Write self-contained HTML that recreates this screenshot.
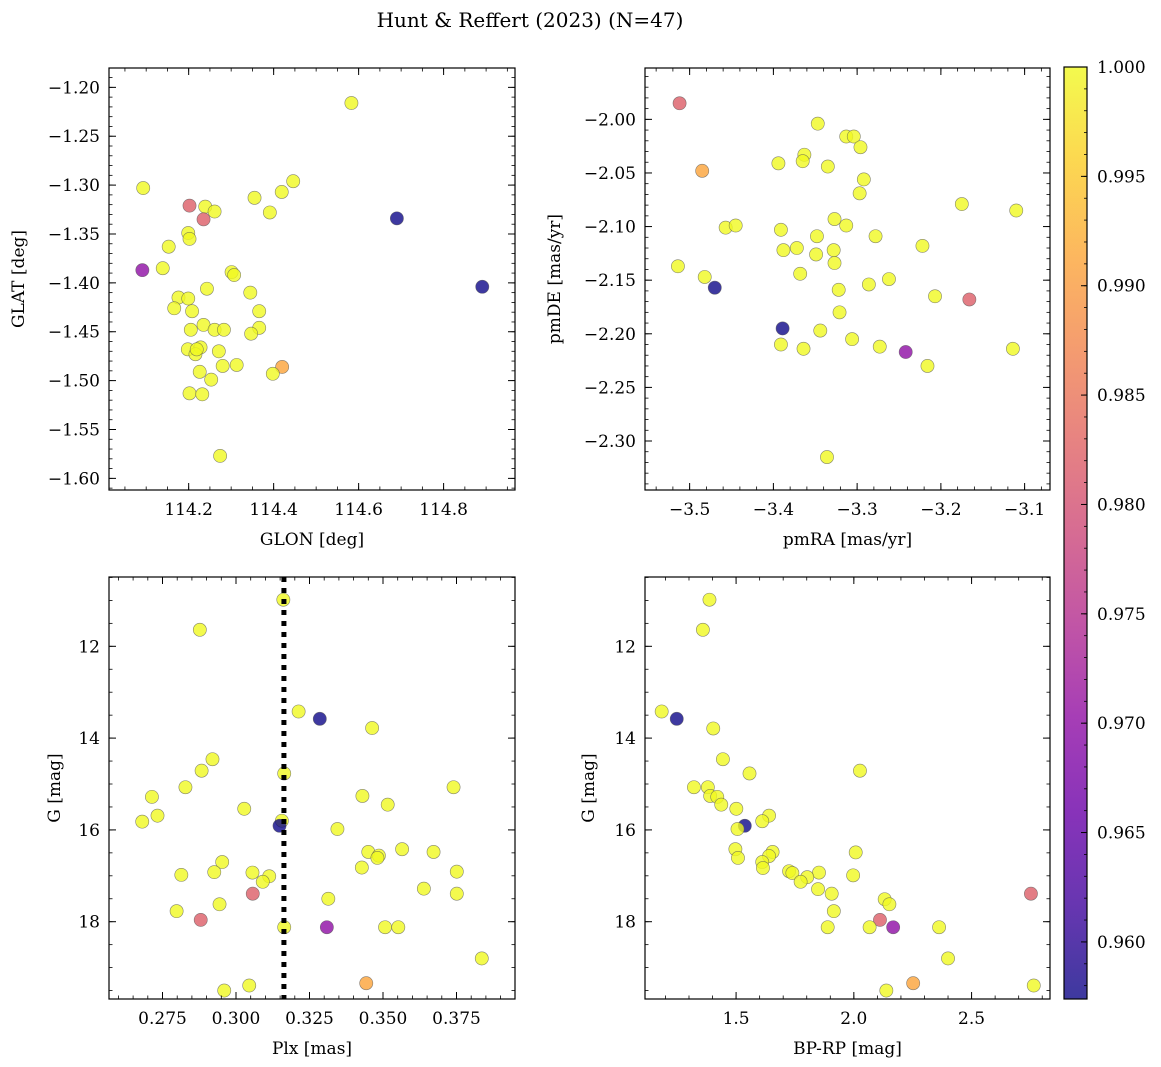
<!DOCTYPE html>
<html><head><meta charset="utf-8"><style>
html,body{margin:0;padding:0;background:#fff;}
svg{display:block;font-family:"DejaVu Serif","Liberation Serif",serif;}
</style></head><body>
<svg id="fig" width="1161" height="1067" viewBox="0 0 1161 1067">
<defs>
<linearGradient id="plasma" x1="0" y1="1" x2="0" y2="0">
<stop offset="0" stop-color="#0d0887"/><stop offset="0.1" stop-color="#41049d"/><stop offset="0.2" stop-color="#6a00a8"/><stop offset="0.3" stop-color="#8f0da4"/><stop offset="0.4" stop-color="#b12a90"/><stop offset="0.5" stop-color="#cc4778"/><stop offset="0.6" stop-color="#e16462"/><stop offset="0.7" stop-color="#f2844b"/><stop offset="0.8" stop-color="#fca636"/><stop offset="0.9" stop-color="#fcce25"/><stop offset="1" stop-color="#f0f921"/>
</linearGradient>
</defs>
<text x="530" y="27" font-size="20" text-anchor="middle">Hunt &amp; Reffert (2023) (N=47)</text>
</svg>
<script>
// ---- data ----
const glon=[114.583,114.093,114.202,114.239,114.261,114.235,114.355,114.391,114.419,114.446,114.690,114.199,114.202,114.153,114.091,114.139,114.301,114.307,114.891,114.243,114.345,114.176,114.199,114.166,114.208,114.366,114.235,114.205,114.261,114.283,114.366,114.347,114.198,114.228,114.216,114.219,114.271,114.280,114.313,114.420,114.398,114.226,114.253,114.202,114.232,114.274];
const glat=[-1.216,-1.303,-1.321,-1.322,-1.327,-1.335,-1.313,-1.328,-1.307,-1.296,-1.334,-1.349,-1.355,-1.363,-1.387,-1.385,-1.389,-1.392,-1.404,-1.406,-1.410,-1.415,-1.416,-1.426,-1.429,-1.429,-1.443,-1.448,-1.448,-1.448,-1.446,-1.452,-1.468,-1.466,-1.473,-1.468,-1.470,-1.485,-1.484,-1.486,-1.493,-1.491,-1.499,-1.513,-1.514,-1.577];
const probA=[1,1,0.982,1,1,0.982,1,1,1,1,0.9575,1,1,1,0.970,1,1,1,0.9575,1,1,1,1,1,1,1,1,1,1,1,1,1,1,1,1,1,1,1,1,0.991,1,1,1,1,1,1];
const pmra=[-3.512,-3.485,-3.347,-3.313,-3.304,-3.296,-3.394,-3.363,-3.365,-3.335,-3.292,-3.297,-3.175,-3.110,-3.457,-3.445,-3.327,-3.313,-3.391,-3.348,-3.278,-3.222,-3.388,-3.372,-3.349,-3.328,-3.327,-3.514,-3.368,-3.482,-3.470,-3.286,-3.262,-3.322,-3.207,-3.166,-3.321,-3.389,-3.344,-3.306,-3.391,-3.364,-3.273,-3.242,-3.216,-3.114,-3.336];
const pmde=[-1.985,-2.048,-2.004,-2.016,-2.016,-2.026,-2.041,-2.033,-2.039,-2.044,-2.056,-2.069,-2.079,-2.085,-2.101,-2.099,-2.093,-2.099,-2.103,-2.109,-2.109,-2.118,-2.122,-2.120,-2.126,-2.122,-2.134,-2.137,-2.144,-2.147,-2.157,-2.154,-2.149,-2.159,-2.165,-2.168,-2.180,-2.195,-2.197,-2.205,-2.210,-2.214,-2.212,-2.217,-2.230,-2.214,-2.315];
const probB=[0.982,0.991,1,1,1,1,1,1,1,1,1,1,1,1,1,1,1,1,1,1,1,1,1,1,1,1,1,1,1,1,0.9575,1,1,1,1,0.982,1,0.9575,1,1,1,1,1,0.970,1,1,1];
const plx=[0.3161,0.2877,0.3213,0.3285,0.3463,0.2920,0.2883,0.3164,0.2828,0.3740,0.2714,0.3430,0.3516,0.3028,0.2733,0.2681,0.3156,0.3148,0.3345,0.3450,0.3486,0.3481,0.3565,0.3672,0.2953,0.3428,0.3751,0.2814,0.2926,0.3056,0.3113,0.3091,0.3057,0.3751,0.3639,0.3314,0.2944,0.2798,0.2880,0.3164,0.3309,0.3507,0.3552,0.3836,0.3443,0.3045,0.2960];
const gmagC=[10.985,11.64,13.42,13.58,13.78,14.46,14.71,14.77,15.07,15.07,15.28,15.26,15.45,15.54,15.69,15.82,15.80,15.91,15.98,16.48,16.56,16.61,16.42,16.48,16.70,16.82,16.91,16.98,16.92,16.93,17.01,17.13,17.39,17.39,17.28,17.50,17.62,17.77,17.96,18.12,18.12,18.12,18.12,18.80,19.34,19.39,19.50];
const probC=[1,1,1,0.9575,1,1,1,1,1,1,1,1,1,1,1,1,1,0.9575,1,1,1,1,1,1,1,1,1,1,1,1,1,1,0.982,1,1,1,1,1,0.982,1,0.970,1,1,1,0.991,1,1];
const bprp=[1.387,1.359,1.184,1.248,1.403,1.444,1.557,2.026,1.321,1.380,1.390,1.420,1.437,1.501,1.640,1.611,1.537,1.506,1.497,1.508,1.655,1.640,2.008,1.611,1.614,1.725,1.739,1.852,1.802,1.774,1.997,1.848,1.906,2.752,2.131,2.151,1.915,2.111,1.889,2.067,2.167,2.362,2.400,2.252,2.764,2.138];
const gmagD=[10.985,11.64,13.42,13.58,13.79,14.46,14.77,14.71,15.07,15.07,15.26,15.28,15.45,15.54,15.69,15.81,15.91,15.98,16.42,16.61,16.48,16.57,16.49,16.70,16.83,16.90,16.94,16.93,17.03,17.13,16.99,17.29,17.39,17.39,17.51,17.62,17.77,17.96,18.12,18.12,18.12,18.12,18.80,19.34,19.39,19.50];
const probD=[1,1,1,0.9575,1,1,1,1,1,1,1,1,1,1,1,1,0.9575,1,1,1,1,1,1,1,1,1,1,1,1,1,1,1,1,0.982,1,1,1,0.982,1,1,0.970,1,1,0.991,1,1];
const plxRef=0.3163;
const cbTicks=[0.960,0.965,0.970,0.975,0.980,0.985,0.990,0.995,1.000];
const ticks1x=[114.2,114.4,114.6,114.8], ticks1y=[-1.20,-1.25,-1.30,-1.35,-1.40,-1.45,-1.50,-1.55,-1.60];
const ticks2x=[-3.5,-3.4,-3.3,-3.2,-3.1], ticks2y=[-2.00,-2.05,-2.10,-2.15,-2.20,-2.25,-2.30];
const ticks3x=[0.275,0.300,0.325,0.350,0.375], ticksGy=[12,14,16,18];
const ticks4x=[1.5,2.0,2.5];

const NS="http://www.w3.org/2000/svg";
const svg=document.getElementById('fig');
function mk(tag,attrs,parent){const e=document.createElementNS(NS,tag);for(const k in attrs)e.setAttribute(k,attrs[k]);(parent||svg).appendChild(e);return e;}
const stops=[[0,[13,8,135]],[0.1,[65,4,157]],[0.2,[106,0,168]],[0.3,[143,13,164]],[0.4,[177,42,144]],[0.5,[204,71,120]],[0.6,[225,100,98]],[0.7,[242,132,75]],[0.8,[252,166,54]],[0.9,[252,206,37]],[1,[240,249,33]]];
const pmin=0.95739,pmax=1.0;
function cmap(p){let t=Math.max(0,Math.min(1,(p-pmin)/(pmax-pmin)));for(let i=1;i<stops.length;i++){if(t<=stops[i][0]){const a=stops[i-1],b=stops[i];const f=(t-a[0])/(b[0]-a[0]);const c=a[1].map((v,j)=>Math.round(v+(b[1][j]-v)*f));return `rgb(${c[0]},${c[1]},${c[2]})`;}}return 'rgb(240,249,33)';}
function fmt(v,d){let s=v.toFixed(d);return s.replace('-','\u2212');}

function panel(o){
  const {x0,y0,w,h,xmin,xmax,ymin,ymax,inv}=o;
  const sx=v=>x0+(v-xmin)/(xmax-xmin)*w;
  const sy=inv?(v=>y0+(v-ymin)/(ymax-ymin)*h):(v=>y0+h-(v-ymin)/(ymax-ymin)*h);
  const g=mk('g',{});
  
  
  for(let i=0;i<o.xs.length;i++){
    const c=mk('circle',{cx:sx(o.xs[i]),cy:sy(o.ys[i]),r:6.6,fill:cmap(o.ps[i]),'fill-opacity':0.8,stroke:'#555','stroke-width':0.6,'stroke-opacity':0.7},g);
    
    
  }
  if(o.vline!==undefined){const l=mk('line',{x1:sx(o.vline),x2:sx(o.vline),y1:y0,y2:y0+h,stroke:'#000','stroke-width':5,'stroke-dasharray':'5,6'},g);
    
    }
  const fr=mk('rect',{x:x0,y:y0,width:w,height:h,fill:'none',stroke:'#000','stroke-width':1.2},g);
  
  
  const mx=Math.ceil(xmin/o.xminor-1e-9);
  for(let k=mx;k*o.xminor<=xmax+1e-9;k++){const X=sx(k*o.xminor);mk('line',{x1:X,x2:X,y1:y0+h,y2:y0+h-3.5,stroke:'#000','stroke-width':0.8},g);mk('line',{x1:X,x2:X,y1:y0,y2:y0+3.5,stroke:'#000','stroke-width':0.8},g);}
  const lo=Math.min(ymin,ymax),hi=Math.max(ymin,ymax);
  for(let k=Math.ceil(lo/o.yminor-1e-9);k*o.yminor<=hi+1e-9;k++){const Y=sy(k*o.yminor);mk('line',{x1:x0,x2:x0+3.5,y1:Y,y2:Y,stroke:'#000','stroke-width':0.8},g);mk('line',{x1:x0+w,x2:x0+w-3.5,y1:Y,y2:Y,stroke:'#000','stroke-width':0.8},g);}
  o.xt.forEach(v=>{const X=sx(v);mk('line',{x1:X,x2:X,y1:y0+h,y2:y0+h-7,stroke:'#000','stroke-width':1},g);mk('line',{x1:X,x2:X,y1:y0,y2:y0+7,stroke:'#000','stroke-width':1},g);
    const t=mk('text',{x:X,y:y0+h+25,'font-size':17,'text-anchor':'middle'},g);t.textContent=fmt(v,o.xd);
    
    });
  o.yt.forEach(v=>{const Y=sy(v);mk('line',{x1:x0,x2:x0+7,y1:Y,y2:Y,stroke:'#000','stroke-width':1},g);mk('line',{x1:x0+w,x2:x0+w-7,y1:Y,y2:Y,stroke:'#000','stroke-width':1},g);
    const t=mk('text',{x:x0-9,y:Y+6,'font-size':17,'text-anchor':'end'},g);t.textContent=fmt(v,o.yd);
    
    });
  const xl=mk('text',{x:x0+w/2,y:y0+h+55,'font-size':17,'text-anchor':'middle'},g);xl.textContent=o.xlabel;
  
  
  const yx=o.ylx,yy=y0+h/2;
  const yl=mk('text',{x:yx,y:yy,'font-size':17,'text-anchor':'middle',transform:`rotate(-90 ${yx} ${yy})`},g);yl.textContent=o.ylabel;
  
  
}
panel({name:'glon-glat-panel',x0:109,y0:68,w:406,h:422,xmin:114.0125,xmax:114.968,ymin:-1.6119,ymax:-1.1802,xs:glon,ys:glat,ps:probA,xt:ticks1x,yt:ticks1y,xd:1,yd:2,xminor:0.05,yminor:0.01,xlabel:'GLON [deg]',ylabel:'GLAT [deg]',ylx:24});
panel({name:'pmra-pmde-panel',x0:645,y0:68,w:405,h:422,xmin:-3.5533,xmax:-3.0697,ymin:-2.3457,ymax:-1.9521,xs:pmra,ys:pmde,ps:probB,xt:ticks2x,yt:ticks2y,xd:1,yd:2,xminor:0.02,yminor:0.01,xlabel:'pmRA [mas/yr]',ylabel:'pmDE [mas/yr]',ylx:560});
panel({name:'plx-g-panel',x0:109,y0:577,w:406,h:422,xmin:0.2568,xmax:0.3949,ymin:10.490,ymax:19.684,inv:true,xs:plx,ys:gmagC,ps:probC,xt:ticks3x,yt:ticksGy,xd:3,yd:0,xminor:0.005,yminor:0.5,xlabel:'Plx [mas]',ylabel:'G [mag]',ylx:60,vline:plxRef});
panel({name:'cmd-panel',x0:645,y0:577,w:405,h:422,xmin:1.1132,xmax:2.833,ymin:10.490,ymax:19.684,inv:true,xs:bprp,ys:gmagD,ps:probD,xt:ticks4x,yt:ticksGy,xd:1,yd:0,xminor:0.1,yminor:0.5,xlabel:'BP-RP [mag]',ylabel:'G [mag]',ylx:594});
// colorbar
const cb=mk('g',{});


const cbx=1064,cby=67,cbw=23,cbh=932;
mk('rect',{x:cbx,y:cby,width:cbw,height:cbh,fill:'url(#plasma)','fill-opacity':0.8,stroke:'none'},cb);
mk('rect',{x:cbx,y:cby,width:cbw,height:cbh,fill:'none',stroke:'#000','stroke-width':1.2},cb);
const cy=v=>cby+cbh-(v-pmin)/(pmax-pmin)*cbh;
for(let k=Math.ceil(pmin/0.001);k<=1000;k++){const Y=cy(k/1000);mk('line',{x1:cbx+cbw,x2:cbx+cbw-3,y1:Y,y2:Y,stroke:'#000','stroke-width':0.8},cb);}
cbTicks.forEach(v=>{const Y=cy(v);mk('line',{x1:cbx+cbw,x2:cbx+cbw-6,y1:Y,y2:Y,stroke:'#000','stroke-width':1},cb);
  const t=mk('text',{x:cbx+cbw+10,y:Y+6,'font-size':17},cb);t.textContent=v.toFixed(3);
  
  });
</script>
</body></html>
